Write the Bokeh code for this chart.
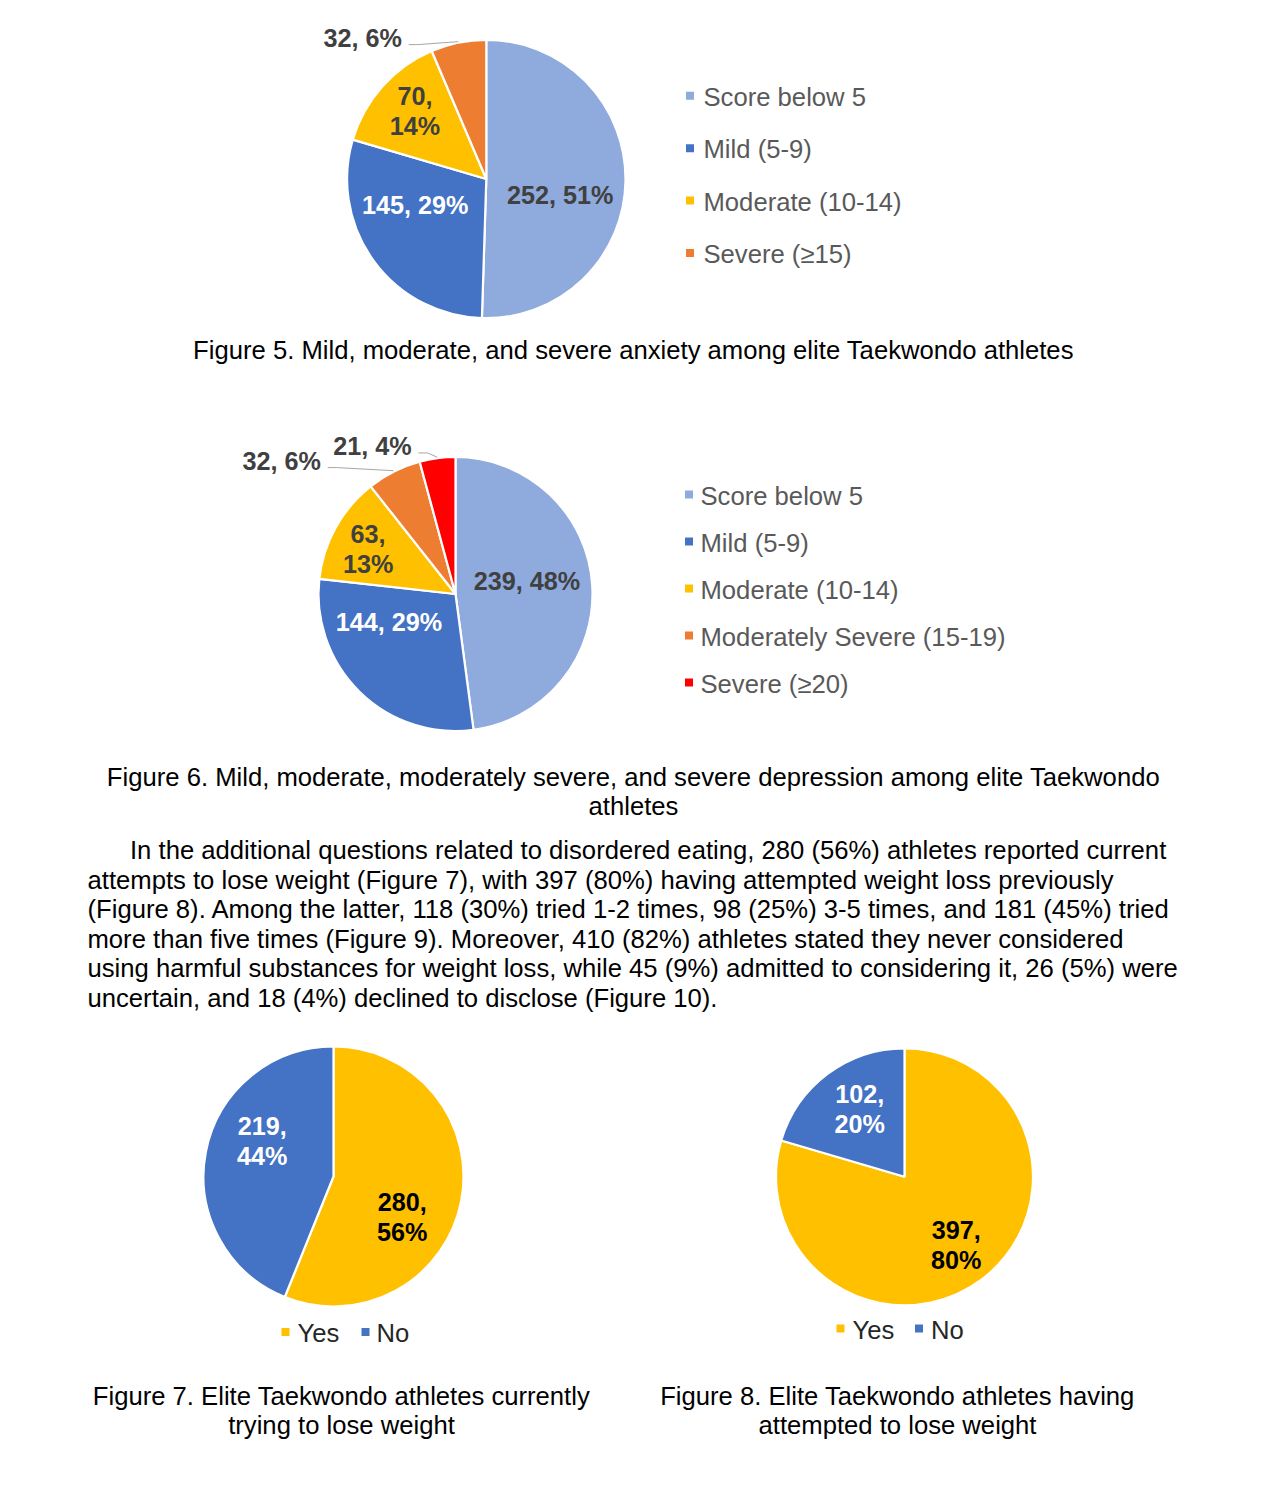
import math
import numpy as np
from bokeh.plotting import figure
from bokeh.models import Range1d, ColumnDataSource
from bokeh.core.properties import value
from bokeh.embed import file_html
from bokeh.resources import INLINE

# ---------------- data ----------------
anx_cats = ["Score below 5", "Mild (5-9)", "Moderate (10-14)", "Severe (\u226515)"]
anx_vals = [252, 145, 70, 32]

dep_cats = ["Score below 5", "Mild (5-9)", "Moderate (10-14)",
            "Moderately Severe (15-19)", "Severe (\u226520)"]
dep_vals = [239, 144, 63, 32, 21]

yn_cats = ["Yes", "No"]
cur_vals = [280, 219]    # currently trying to lose weight
prev_vals = [397, 102]   # attempted to lose weight previously

cap5 = ["Figure 5. Mild, moderate, and severe anxiety among elite Taekwondo athletes"]
cap6 = ["Figure 6. Mild, moderate, moderately severe, and severe depression among elite Taekwondo",
        "athletes"]
cap7 = ["Figure 7. Elite Taekwondo athletes currently", "trying to lose weight"]
cap8 = ["Figure 8. Elite Taekwondo athletes having", "attempted to lose weight"]
para = [
    "In the additional questions related to disordered eating, 280 (56%) athletes reported current",
    "attempts to lose weight (Figure 7), with 397 (80%) having attempted weight loss previously",
    "(Figure 8). Among the latter, 118 (30%) tried 1-2 times, 98 (25%) 3-5 times, and 181 (45%) tried",
    "more than five times (Figure 9). Moreover, 410 (82%) athletes stated they never considered",
    "using harmful substances for weight loss, while 45 (9%) admitted to considering it, 26 (5%) were",
    "uncertain, and 18 (4%) declined to disclose (Figure 10).",
]

# ---------------- style ----------------
LBLUE, BLUE, YEL, ORG, RED = "#8FAADC", "#4472C4", "#FFC000", "#ED7D31", "#FF0000"
DARK, LEGC, LEGC2 = "#404040", "#595959", "#262626"
FONT = value("Liberation Sans")
BODY_SIZE = "25.65px"
LAB_SIZE = "25.2px"

W, H, OFF = 1262, 1470, 0
p = figure(width=W, height=H, x_range=Range1d(OFF, OFF + W),
           y_range=Range1d(-(OFF + H), -OFF), output_backend="svg",
           toolbar_location=None, x_axis_type=None, y_axis_type=None,
           min_border=0, outline_line_color=None, title=None)
p.xgrid.visible = False
p.ygrid.visible = False

texts = dict(x=[], y=[], t=[], c=[], align=[], size=[], style=[])


def add_text(x, y, t, c, align="center", size=BODY_SIZE, style="normal"):
    texts["x"].append(x); texts["y"].append(-y); texts["t"].append(t)
    texts["c"].append(c); texts["align"].append(align)
    texts["size"].append(size); texts["style"].append(style)


def pie(cx, cy, r, vals, colors, lab_f, lab_dth, lab_mode, lab_col):
    vals = list(vals)
    total = float(sum(vals))
    cum = np.concatenate([[0.0], np.cumsum(vals)]) / total
    start = np.pi / 2 - 2 * np.pi * cum[:-1]
    end = np.pi / 2 - 2 * np.pi * cum[1:]
    n = len(vals)
    src = ColumnDataSource(dict(x=[cx] * n, y=[-cy] * n, s=start, e=end, c=colors))
    p.wedge(x="x", y="y", radius=r, start_angle="s", end_angle="e",
            direction="clock", fill_color="c", line_color="white",
            line_width=2.2, source=src)
    mids = 360.0 * (cum[:-1] + cum[1:]) / 2
    for i, v in enumerate(vals):
        pct = f"{int(round(100 * v / total))}%"
        th = math.radians(mids[i] + lab_dth[i])
        d = lab_f[i] * r
        lx = cx + d * math.sin(th)
        ly = cy - d * math.cos(th)
        if lab_mode[i] == "two":
            add_text(lx, ly - 15, f"{v},", lab_col[i], size=LAB_SIZE, style="bold")
            add_text(lx, ly + 15, pct, lab_col[i], size=LAB_SIZE, style="bold")
        else:
            add_text(lx, ly, f"{v}, {pct}", lab_col[i], size=LAB_SIZE, style="bold")
        if lab_mode[i] == "out":
            tm = math.radians(mids[i])
            ex = cx + (r + 1) * math.sin(tm)
            ey = cy - (r + 1) * math.cos(tm)
            p.line([lx + 46, lx + 55, ex], [-(ly + 6.5), -(ly + 6.5), -ey],
                   line_color="#A6A6A6", line_width=1)


# Figure 5 pie
pie(485.8, 178.5, 139.2, anx_vals, [LBLUE, BLUE, YEL, ORG],
    [0.543, 0.545, 0.706, 1.346], [11.3, 15.5, 1.8, -29.7],
    ["one", "one", "two", "out"], [DARK, "white", DARK, DARK])
# Figure 6 pie
pie(455, 593.5, 137, dep_vals, [LBLUE, BLUE, YEL, ORG, RED],
    [0.53, 0.528, 0.717, 1.597, 1.236], [-6.9, 22.6, -1.9, -25.9, -21.8],
    ["one", "one", "two", "out", "out"], [DARK, "white", DARK, DARK, DARK])
# Figure 7 pie
pie(333, 1176, 130, cur_vals, [YEL, BLUE],
    [0.614, 0.614], [19.6, 15.8], ["two", "two"], ["black", "white"])
# Figure 8 pie
pie(904, 1176.3, 128.5, prev_vals, [YEL, BLUE],
    [0.669, 0.634], [-0.2, 3.4], ["two", "two"], ["black", "white"])

# legends
leg = dict(x=[], y=[], c=[])


def vlegend(cats, colors, mx, tx, y0, dy):
    for i, (cat, col) in enumerate(zip(cats, colors)):
        y = y0 + i * dy
        leg["x"].append(mx); leg["y"].append(-(y - 1)); leg["c"].append(col)
        add_text(tx, y, cat, LEGC, align="left")


vlegend(anx_cats, [LBLUE, BLUE, YEL, ORG], 689.5, 703, 96.3, 52.4)
vlegend(dep_cats, [LBLUE, BLUE, YEL, ORG, RED], 688.5, 700, 495, 47)


def hlegend(cats, colors, mxs, txs, y):
    for cat, col, mx, tx in zip(cats, colors, mxs, txs):
        leg["x"].append(mx); leg["y"].append(-(y - 1)); leg["c"].append(col)
        add_text(tx, y, cat, LEGC2, align="left")


hlegend(yn_cats, [YEL, BLUE], [285, 365], [297, 376], 1332.5)
hlegend(yn_cats, [YEL, BLUE], [840, 918.5], [852, 930.5], 1329)

p.scatter(x="x", y="y", marker="square", size=8, fill_color="c",
          line_color=None, source=ColumnDataSource(leg))

# captions
add_text(633, 349, cap5[0], "black")
add_text(633, 776, cap6[0], "black")
add_text(633, 805.5, cap6[1], "black")
add_text(341, 1395, cap7[0], "black")
add_text(341, 1424, cap7[1], "black")
add_text(897, 1395, cap8[0], "black")
add_text(897, 1424.5, cap8[1], "black")

# paragraph
for i, line in enumerate(para):
    add_text(129.5 if i == 0 else 87, 849.5 + 29.6 * i, line, "black", align="left")

p.text(x="x", y="y", text="t", text_color="c", text_align="align",
       text_font_size="size", text_font_style="style", text_baseline="middle",
       text_font=FONT, source=ColumnDataSource(texts))

open("out.html", "w").write(file_html(p, INLINE))
